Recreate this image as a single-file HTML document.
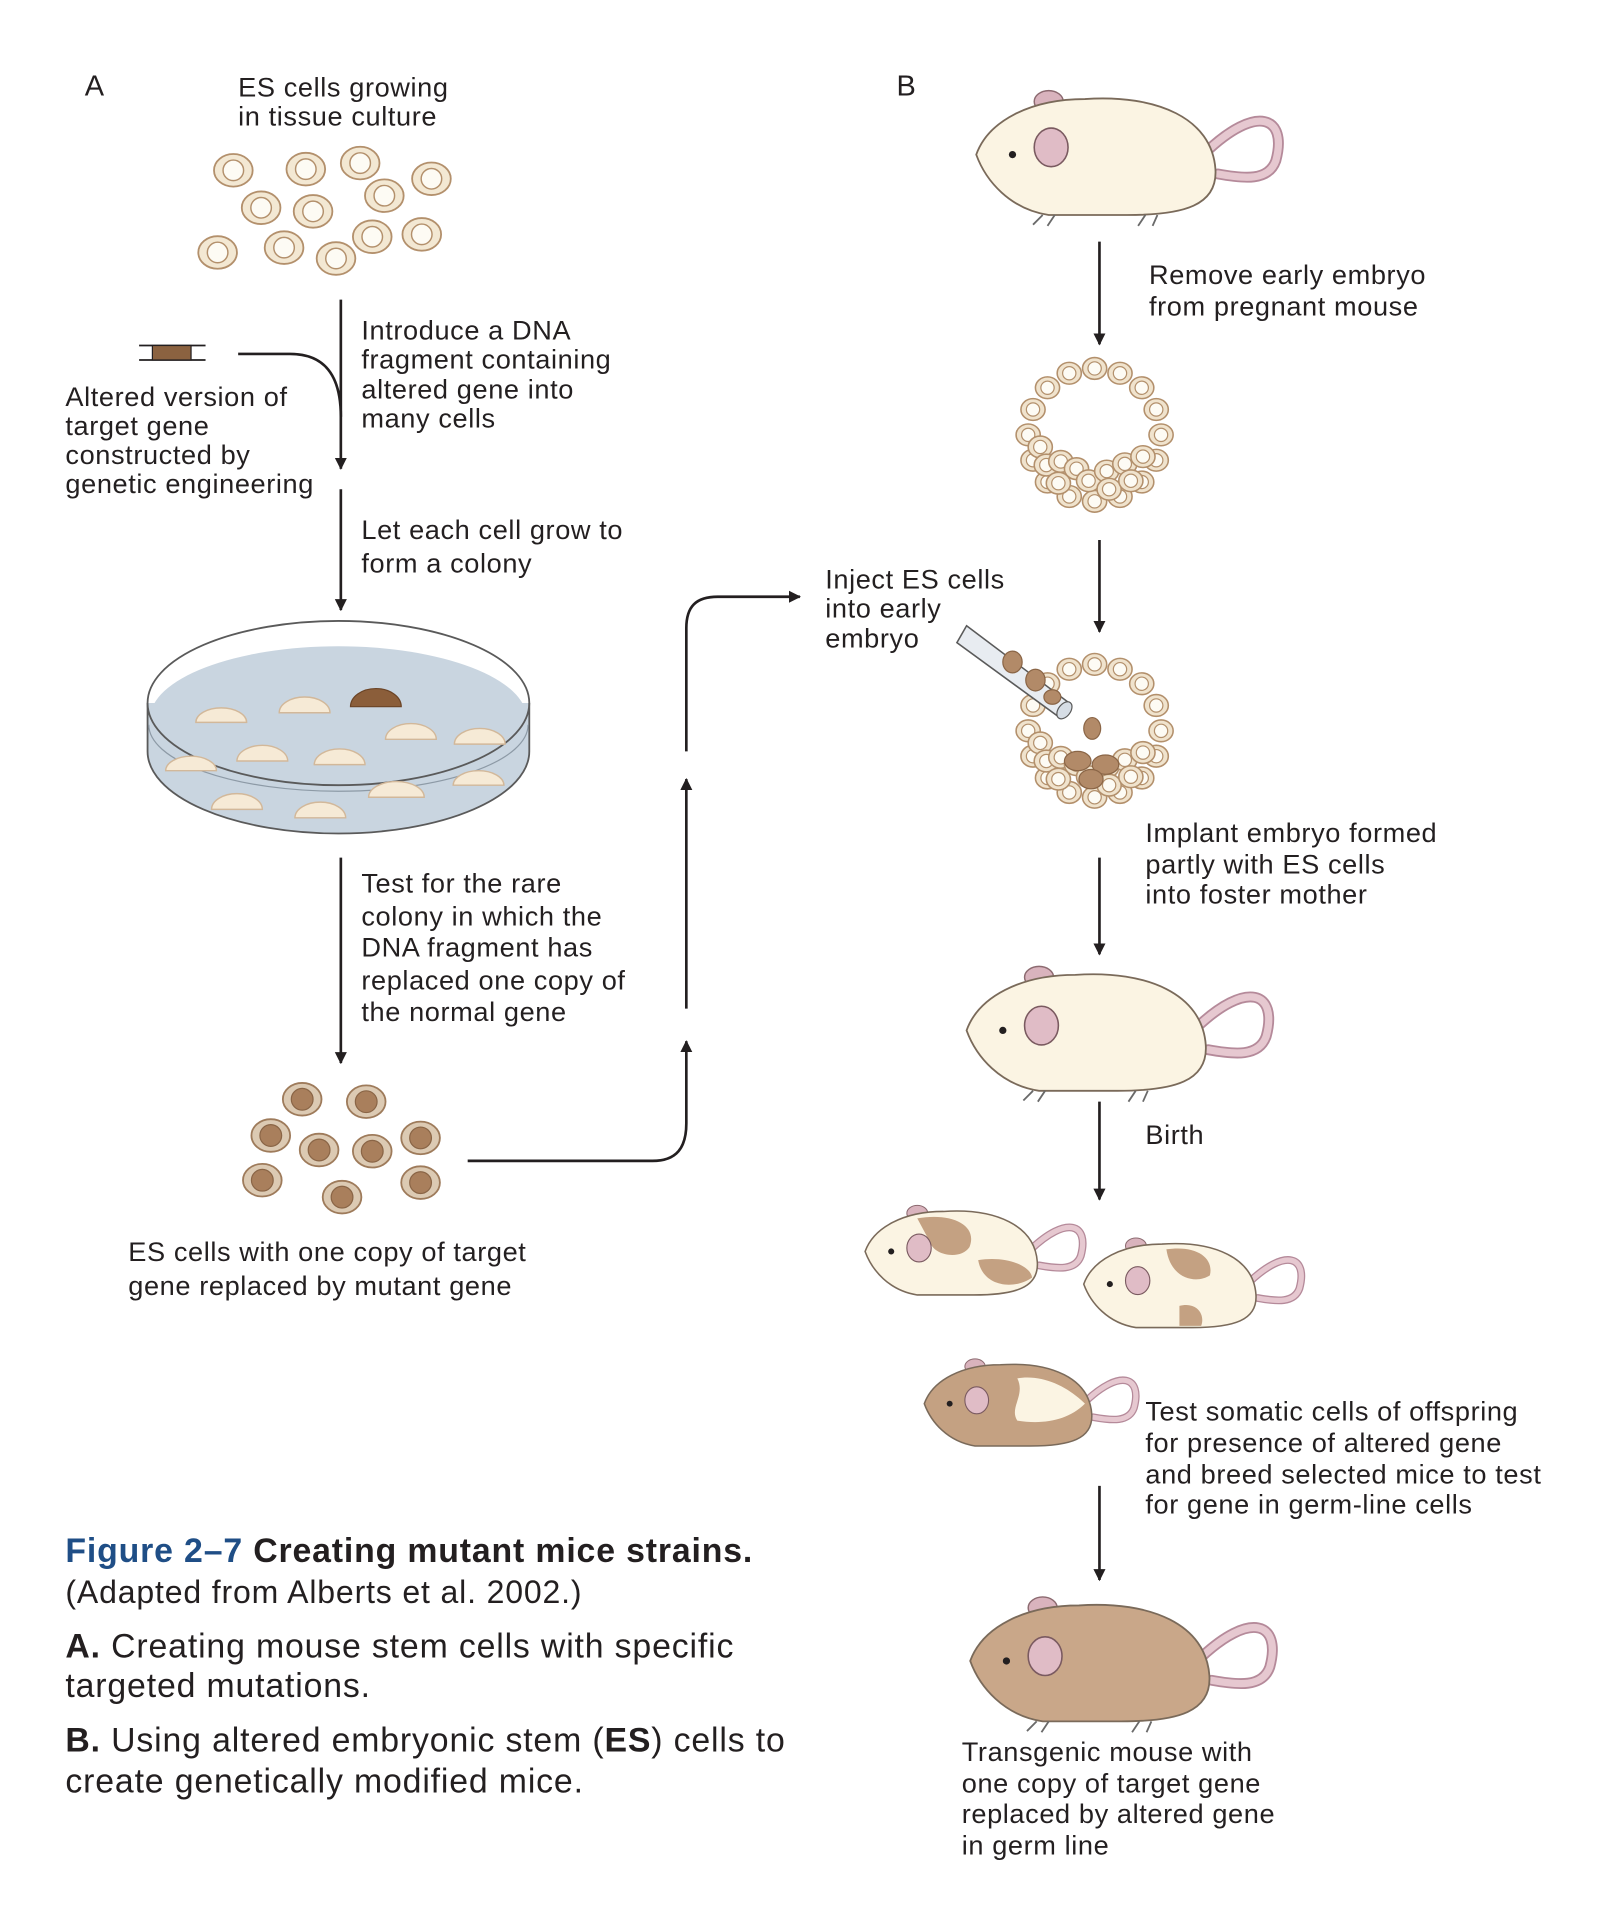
<!DOCTYPE html>
<html><head><meta charset="utf-8"><style>
html,body{margin:0;padding:0;background:#fff;}
svg{display:block;}
text{font-family:"Liberation Sans",sans-serif;fill:#231f20;}
.t{font-size:22.5px;letter-spacing:0.5px;}
.c{font-size:28px;letter-spacing:0.7px;}
</style></head><body>
<svg width="1607" height="1905" viewBox="0 0 1330 1577" xmlns="http://www.w3.org/2000/svg">
<defs>
<marker id="ah" markerWidth="10" markerHeight="12" refX="9" refY="5" orient="auto" markerUnits="userSpaceOnUse"><path d="M0,0 L10,5 L0,10 Z" fill="#231f20"/></marker>
<g id="cell"><ellipse rx="16" ry="13.5" fill="#f3e8d3" stroke="#b3906c" stroke-width="1.5"/><circle r="8.5" fill="#fdfbf4" stroke="#b3906c" stroke-width="1.2"/></g>
<g id="mcell"><ellipse rx="16" ry="13.5" fill="#dccab3" stroke="#9e7b5b" stroke-width="1.5"/><circle r="9" fill="#a97f5c" stroke="#8a6546" stroke-width="1"/></g>
<g id="sc"><ellipse rx="10" ry="9" fill="#f0e3cd" stroke="#b3906c" stroke-width="1.3"/><circle r="5.5" fill="#fdfbf4" stroke="#b3906c" stroke-width="1"/></g>
<g id="ring">
<use href="#sc" x="55" y="0"/><use href="#sc" x="51" y="21"/><use href="#sc" x="39" y="39"/><use href="#sc" x="21" y="51"/><use href="#sc" x="0" y="55"/><use href="#sc" x="-21" y="51"/><use href="#sc" x="-39" y="39"/><use href="#sc" x="-51" y="21"/><use href="#sc" x="-55" y="0"/><use href="#sc" x="-51" y="-21"/><use href="#sc" x="-39" y="-39"/><use href="#sc" x="-21" y="-51"/><use href="#sc" x="0" y="-55"/><use href="#sc" x="21" y="-51"/><use href="#sc" x="39" y="-39"/><use href="#sc" x="51" y="-21"/>
<use href="#sc" x="-45" y="10"/><use href="#sc" x="-40" y="25"/><use href="#sc" x="-28" y="22"/><use href="#sc" x="-15" y="28"/><use href="#sc" x="-5" y="38"/><use href="#sc" x="10" y="30"/><use href="#sc" x="25" y="24"/><use href="#sc" x="40" y="18"/><use href="#sc" x="-30" y="40"/><use href="#sc" x="12" y="45"/><use href="#sc" x="30" y="38"/>
</g>
<g id="mouseshape">
<path d="M190,48 C232,8 258,18 248,55 C242,72 222,70 200,66" fill="none" stroke="#b58a9a" stroke-width="9" stroke-linecap="round"/>
<path d="M190,48 C232,8 258,18 248,55 C242,72 222,70 200,66" fill="none" stroke="#e6c8d0" stroke-width="6" stroke-linecap="round"/>
<ellipse cx="60" cy="6" rx="12" ry="9" fill="#d9b3bd" stroke="#8c6a70" stroke-width="1.2"/>
</g>
</defs>

<!-- Panel A -->
<text x="70" y="79" style="font-size:24px">A</text>
<text class="t" x="197" y="80">ES cells growing</text>
<text class="t" x="197" y="104">in tissue culture</text>
<use href="#cell" x="193" y="141"/><use href="#cell" x="253" y="140"/><use href="#cell" x="298" y="135"/><use href="#cell" x="357" y="148"/><use href="#cell" x="216" y="172"/><use href="#cell" x="259" y="175"/><use href="#cell" x="318" y="162"/><use href="#cell" x="180" y="209"/><use href="#cell" x="235" y="205"/><use href="#cell" x="278" y="214"/><use href="#cell" x="308" y="196"/><use href="#cell" x="349" y="194"/>

<line x1="282" y1="248" x2="282" y2="388" stroke="#231f20" stroke-width="2.2" marker-end="url(#ah)"/>
<path d="M197,293 L240,293 C268,293 282,310 282,345" fill="none" stroke="#231f20" stroke-width="2.2"/>
<line x1="115" y1="286" x2="170" y2="286" stroke="#231f20" stroke-width="1.5"/>
<line x1="115" y1="298" x2="170" y2="298" stroke="#231f20" stroke-width="1.5"/>
<rect x="126" y="286" width="32" height="12" fill="#8b6240" stroke="#231f20" stroke-width="1"/>
<text class="t" x="299" y="281">Introduce a DNA</text>
<text class="t" x="299" y="305">fragment containing</text>
<text class="t" x="299" y="330">altered gene into</text>
<text class="t" x="299" y="354">many cells</text>
<text class="t" x="54" y="336">Altered version of</text>
<text class="t" x="54" y="360">target gene</text>
<text class="t" x="54" y="384">constructed by</text>
<text class="t" x="54" y="408">genetic engineering</text>

<line x1="282" y1="405" x2="282" y2="505" stroke="#231f20" stroke-width="2.2" marker-end="url(#ah)"/>
<text class="t" x="299" y="446">Let each cell grow to</text>
<text class="t" x="299" y="474">form a colony</text>

<!-- dish -->
<path d="M122,582 L122,622 A158,68 0 0 0 438,622 L438,582" fill="#c9d5e0" stroke="#5a5a5a" stroke-width="1.5"/>
<ellipse cx="280" cy="595" rx="156" ry="60" fill="#c9d5e0" stroke="none"/>
<ellipse cx="280" cy="582" rx="158" ry="68" fill="none" stroke="#5a5a5a" stroke-width="1.5"/>
<path d="M123,600 A157,55 0 0 0 437,600" fill="none" stroke="#8d9aa6" stroke-width="1"/>
<g fill="#f6ead6" stroke="#d2b89a" stroke-width="1.2">
<path d="M162,598 a21,12 0 0 1 42,0 z"/><path d="M231,590 a21,13 0 0 1 42,0 z"/><path d="M196,630 a21,13 0 0 1 42,0 z"/><path d="M260,633 a21,13 0 0 1 42,0 z"/><path d="M319,612 a21,13 0 0 1 42,0 z"/><path d="M376,616 a21,13 0 0 1 42,0 z"/><path d="M137,638 a21,12 0 0 1 42,0 z"/><path d="M305,660 a23,13 0 0 1 46,0 z"/><path d="M375,650 a21,12 0 0 1 42,0 z"/><path d="M175,670 a21,13 0 0 1 42,0 z"/><path d="M244,677 a21,13 0 0 1 42,0 z"/>
</g>
<path d="M290,585 a21,15 0 0 1 42,0 z" fill="#8b5e3a" stroke="#6b4426" stroke-width="1"/>

<line x1="282" y1="710" x2="282" y2="880" stroke="#231f20" stroke-width="2.2" marker-end="url(#ah)"/>
<text class="t" x="299" y="739">Test for the rare</text>
<text class="t" x="299" y="766">colony in which the</text>
<text class="t" x="299" y="792">DNA fragment has</text>
<text class="t" x="299" y="819">replaced one copy of</text>
<text class="t" x="299" y="845">the normal gene</text>

<use href="#mcell" x="250" y="910"/><use href="#mcell" x="303" y="912"/><use href="#mcell" x="224" y="940"/><use href="#mcell" x="264" y="952"/><use href="#mcell" x="308" y="953"/><use href="#mcell" x="348" y="942"/><use href="#mcell" x="217" y="977"/><use href="#mcell" x="348" y="979"/><use href="#mcell" x="283" y="991"/>
<text class="t" x="106" y="1044">ES cells with one copy of target</text>
<text class="t" x="106" y="1072">gene replaced by mutant gene</text>

<path d="M387,961 L540,961 C560,961 568,950 568,930 L568,862" fill="none" stroke="#231f20" stroke-width="2.2" marker-end="url(#ah)"/>
<line x1="568" y1="835" x2="568" y2="645" stroke="#231f20" stroke-width="2.2" marker-end="url(#ah)"/>
<path d="M568,622 L568,520 C568,502 576,494 594,494 L662,494" fill="none" stroke="#231f20" stroke-width="2.2" marker-end="url(#ah)"/>

<!-- caption -->
<text x="54" y="1293" class="c" style="font-weight:bold"><tspan style="fill:#1f4e86">Figure 2–7</tspan>  Creating mutant mice strains.</text>
<text x="54" y="1327" class="c" style="font-size:26.5px">(Adapted from Alberts et al. 2002.)</text>
<text x="54" y="1372" class="c"><tspan font-weight="bold">A.</tspan> Creating mouse stem cells with specific</text>
<text x="54" y="1405" class="c">targeted mutations.</text>
<text x="54" y="1450" class="c"><tspan font-weight="bold">B.</tspan> Using altered embryonic stem (<tspan font-weight="bold">ES</tspan>) cells to</text>
<text x="54" y="1484" class="c">create genetically modified mice.</text>

<!-- Panel B -->
<text x="742" y="79" style="font-size:24px">B</text>

<g transform="translate(808,78)">
<use href="#mouseshape"/>
<path d="M0,50 C10,22 45,4 90,4 C150,0 195,20 198,62 C200,92 172,100 125,100 L60,100 C28,95 8,72 0,50 Z" fill="#fbf4e3" stroke="#7a6a5a" stroke-width="1.5"/>
<ellipse cx="62" cy="44" rx="14" ry="16" fill="#e0bcc6" stroke="#7a5a60" stroke-width="1.3"/>
<circle cx="30" cy="50" r="3" fill="#231f20"/>
<path d="M55,100 l-8,8 M65,100 l-6,9 M140,100 l-6,9 M150,100 l-4,9" stroke="#6a6a6a" stroke-width="1.5"/>
</g>
<line x1="910" y1="200" x2="910" y2="285" stroke="#231f20" stroke-width="2.2" marker-end="url(#ah)"/>
<text class="t" x="951" y="235">Remove early embryo</text>
<text class="t" x="951" y="261">from pregnant mouse</text>
<use href="#ring" x="906" y="360"/>
<line x1="910" y1="447" x2="910" y2="523" stroke="#231f20" stroke-width="2.2" marker-end="url(#ah)"/>
<text class="t" x="683" y="487">Inject ES cells</text>
<text class="t" x="683" y="511">into early</text>
<text class="t" x="683" y="536">embryo</text>
<use href="#ring" x="906" y="605"/>
<g fill="#b28a68" stroke="#8a6546" stroke-width="1">
<ellipse cx="892" cy="630" rx="11" ry="8"/><ellipse cx="915" cy="633" rx="11" ry="8"/><ellipse cx="903" cy="645" rx="10" ry="8"/>
</g>
<ellipse cx="904" cy="603" rx="7" ry="9" fill="#b28a68" stroke="#8a6546"/>
<path d="M800,518 L885,582 L877,594 L792,532 Z" fill="#e8ecf1" stroke="#5a5a5a" stroke-width="1.3"/>
<ellipse cx="881" cy="588" rx="5" ry="8" transform="rotate(37 881 588)" fill="#d6dde5" stroke="#5a5a5a"/>
<ellipse cx="838" cy="548" rx="8" ry="9" fill="#b28a68" stroke="#8a6546"/>
<ellipse cx="857" cy="563" rx="8" ry="9" fill="#b28a68" stroke="#8a6546"/>
<ellipse cx="871" cy="577" rx="7" ry="6" fill="#b28a68" stroke="#8a6546"/>
<text class="t" x="948" y="697">Implant embryo formed</text>
<text class="t" x="948" y="723">partly with ES cells</text>
<text class="t" x="948" y="748">into foster mother</text>
<line x1="910" y1="710" x2="910" y2="790" stroke="#231f20" stroke-width="2.2" marker-end="url(#ah)"/>

<g transform="translate(800,803)">
<use href="#mouseshape"/>
<path d="M0,50 C10,22 45,4 90,4 C150,0 195,20 198,62 C200,92 172,100 125,100 L60,100 C28,95 8,72 0,50 Z" fill="#fbf4e3" stroke="#7a6a5a" stroke-width="1.5"/>
<ellipse cx="62" cy="46" rx="14" ry="16" fill="#e0bcc6" stroke="#7a5a60" stroke-width="1.3"/>
<circle cx="30" cy="50" r="3" fill="#231f20"/>
<path d="M55,100 l-8,8 M65,100 l-6,9 M140,100 l-6,9 M150,100 l-4,9" stroke="#6a6a6a" stroke-width="1.5"/>
</g>
<line x1="910" y1="912" x2="910" y2="993" stroke="#231f20" stroke-width="2.2" marker-end="url(#ah)"/>
<text class="t" x="948" y="947">Birth</text>

<g transform="translate(716,1000) scale(0.72)">
<use href="#mouseshape"/>
<path d="M0,50 C10,22 45,4 90,4 C150,0 195,20 198,62 C200,92 172,100 125,100 L60,100 C28,95 8,72 0,50 Z" fill="#fbf4e3" stroke="#7a6a5a" stroke-width="1.8"/>
<path d="M60,12 C100,5 130,20 120,45 C110,60 80,55 75,40 Z M130,60 C160,55 190,65 192,80 C170,95 135,90 130,60 Z" fill="#c4a182"/>
<ellipse cx="62" cy="46" rx="14" ry="16" fill="#e0bcc6" stroke="#7a5a60" stroke-width="1.3"/>
<circle cx="30" cy="50" r="3.5" fill="#231f20"/>
</g>
<g transform="translate(897,1027) scale(0.72)">
<use href="#mouseshape"/>
<path d="M0,50 C10,22 45,4 90,4 C150,0 195,20 198,62 C200,92 172,100 125,100 L60,100 C28,95 8,72 0,50 Z" fill="#fbf4e3" stroke="#7a6a5a" stroke-width="1.8"/>
<path d="M95,10 C130,5 150,20 145,40 C130,50 100,45 95,10 Z M110,75 C130,70 140,85 135,98 L110,98 Z" fill="#c4a182"/>
<ellipse cx="62" cy="46" rx="14" ry="16" fill="#e0bcc6" stroke="#7a5a60" stroke-width="1.3"/>
<circle cx="30" cy="50" r="3.5" fill="#231f20"/>
</g>
<g transform="translate(765,1127) scale(0.7)">
<use href="#mouseshape"/>
<path d="M0,50 C10,22 45,4 90,4 C150,0 195,20 198,62 C200,92 172,100 125,100 L60,100 C28,95 8,72 0,50 Z" fill="#c4a182" stroke="#7a6a5a" stroke-width="1.8"/>
<path d="M110,20 C140,15 170,30 190,50 C170,70 140,75 110,70 C100,55 120,40 110,20 Z" fill="#fbf4e3"/>
<ellipse cx="62" cy="46" rx="14" ry="16" fill="#e0bcc6" stroke="#7a5a60" stroke-width="1.3"/>
<circle cx="30" cy="50" r="3.5" fill="#231f20"/>
</g>
<text class="t" x="948" y="1176">Test somatic cells of offspring</text>
<text class="t" x="948" y="1202">for presence of altered gene</text>
<text class="t" x="948" y="1228">and breed selected mice to test</text>
<text class="t" x="948" y="1253">for gene in germ-line cells</text>
<line x1="910" y1="1230" x2="910" y2="1308" stroke="#231f20" stroke-width="2.2" marker-end="url(#ah)"/>

<g transform="translate(803,1325)">
<use href="#mouseshape"/>
<path d="M0,50 C10,22 45,4 90,4 C150,0 195,20 198,62 C200,92 172,100 125,100 L60,100 C28,95 8,72 0,50 Z" fill="#c9a789" stroke="#7a6a5a" stroke-width="1.5"/>
<ellipse cx="62" cy="46" rx="14" ry="16" fill="#e0bcc6" stroke="#7a5a60" stroke-width="1.3"/>
<circle cx="30" cy="50" r="3" fill="#231f20"/>
<path d="M55,100 l-8,8 M65,100 l-6,9 M140,100 l-6,9 M150,100 l-4,9" stroke="#6a6a6a" stroke-width="1.5"/>
</g>
<text class="t" x="796" y="1458">Transgenic mouse with</text>
<text class="t" x="796" y="1484">one copy of target gene</text>
<text class="t" x="796" y="1509">replaced by altered gene</text>
<text class="t" x="796" y="1535">in germ line</text>
</svg>
</body></html>
